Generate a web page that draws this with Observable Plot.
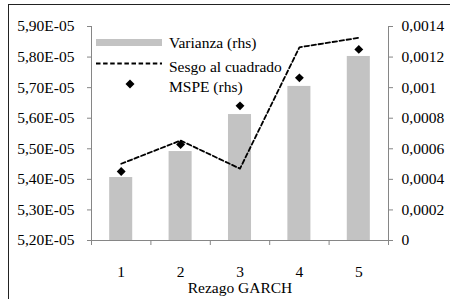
<!DOCTYPE html>
<html><head><meta charset="utf-8">
<script src="https://cdn.jsdelivr.net/npm/d3@7"></script>
<script src="https://cdn.jsdelivr.net/npm/@observablehq/plot@0.6"></script>
<style>
body{margin:0;background:#fff;}
#wrap{position:relative;width:450px;height:299px;overflow:hidden;font-family:"Liberation Serif","Times New Roman",serif;color:#000;}
#border{position:absolute;left:8px;top:4px;width:460px;height:310px;border-left:1px solid #222;border-top:1px solid #222;pointer-events:none;}
#chart{position:absolute;left:0;top:0;}
.lg{position:absolute;font-size:15.5px;line-height:1;white-space:nowrap;}
</style>
</head><body>
<div id="wrap"><div id="chart"></div><div id="border"></div>
<svg id="lgsw" width="450" height="299" style="position:absolute;left:0;top:0;pointer-events:none">
  <rect x="96" y="39" width="66" height="7" fill="#c3c3c3"/>
  <line x1="96" x2="162" y1="63.5" y2="63.5" stroke="#000" stroke-width="1.8" stroke-dasharray="4.5,2.6"/>
  <path d="M130,79.5 L134.5,84 L130,88.5 L125.5,84 Z" fill="#000"/>
</svg>
<div class="lg" id="l0" style="left:169px;top:35px"></div>
<div class="lg" id="l1" style="left:169px;top:59px"></div>
<div class="lg" id="l2" style="left:169px;top:79px"></div>
</div>
<script>
const lags = [1, 2, 3, 4, 5];
const varianza = [0.000412, 0.000582, 0.000824, 0.001008, 0.001204];
const sesgo = [5.451e-5, 5.527e-5, 5.435e-5, 5.832e-5, 5.863e-5];
const mspe = [0.000451, 0.000628, 0.000881, 0.001064, 0.00125];
const leftTicks = [5.2e-5, 5.3e-5, 5.4e-5, 5.5e-5, 5.6e-5, 5.7e-5, 5.8e-5, 5.9e-5];
const leftTickLabels = ["5,20E-05","5,30E-05","5,40E-05","5,50E-05","5,60E-05","5,70E-05","5,80E-05","5,90E-05"];
const rightTicks = [0, 0.0002, 0.0004, 0.0006, 0.0008, 0.001, 0.0012, 0.0014];
const rightTickLabels = ["0","0,0002","0,0004","0,0006","0,0008","0,001","0,0012","0,0014"];
const seriesNames = ["Varianza (rhs)", "Sesgo al cuadrado", "MSPE (rhs)"];
const xTitle = "Rezago GARCH";

const data = lags.map((lag, i) => ({lag, varianza: varianza[i], sesgo: sesgo[i], mspe: mspe[i]}));
const lMin = leftTicks[0], lMax = leftTicks[leftTicks.length - 1];
const rMax = rightTicks[rightTicks.length - 1];
const toR = v => (v - lMin) / (lMax - lMin) * rMax;
const leftPos = leftTicks.map(toR);
const bounds = [lags[0] - 0.5, ...lags.map(l => l + 0.5)];
const axisColor = "#868686";

const chart = Plot.plot({
  width: 450, height: 299,
  marginLeft: 91, marginRight: 62, marginTop: 26, marginBottom: 59,
  x: {domain: [bounds[0], bounds[bounds.length - 1]]},
  y: {domain: [0, rMax]},
  style: {fontFamily: "'Liberation Serif', 'Times New Roman', serif", fontSize: "15.5px", color: "#000", background: "transparent", overflow: "visible"},
  marks: [
    Plot.rectY(data, {x1: d => d.lag - 0.194, x2: d => d.lag + 0.194, y1: 0, y2: "varianza", fill: "#c3c3c3"}),
    Plot.lineY(data, {x: "lag", y: d => toR(d.sesgo), stroke: "#000", strokeWidth: 1.8, strokeDasharray: "4.5,2.6"}),
    Plot.dot(data, {x: "lag", y: "mspe", symbol: "diamond2", r: 4, fill: "#000", stroke: null}),
    Plot.ruleX([bounds[0], bounds[bounds.length - 1]], {stroke: axisColor}),
    Plot.ruleY([0], {stroke: axisColor}),
    Plot.axisY({anchor: "left", ticks: leftPos, tickSize: 4, tickPadding: 13, stroke: axisColor, fill: "#000", label: null,
      tickFormat: d => leftTickLabels[leftPos.findIndex(t => Math.abs(t - d) < 1e-9)]}),
    Plot.axisY({anchor: "right", ticks: rightTicks, tickSize: 4, tickPadding: 9, stroke: axisColor, fill: "#000", label: null,
      tickFormat: d => rightTickLabels[rightTicks.findIndex(t => Math.abs(t - d) < 1e-9)]}),
    Plot.axisX({ticks: bounds, tickSize: 5, stroke: axisColor, tickFormat: () => "", label: null}),
    Plot.axisX({ticks: lags, tickSize: 0, tickPadding: 25, fill: "#000", tickFormat: d => String(d), label: null}),
    Plot.text([xTitle], {frameAnchor: "bottom", lineAnchor: "middle", dy: 48, fill: "#000", fontSize: 15.5})
  ]
});
document.getElementById("chart").appendChild(chart);
seriesNames.forEach((n, i) => document.getElementById("l" + i).textContent = n);
</script>
</body></html>
